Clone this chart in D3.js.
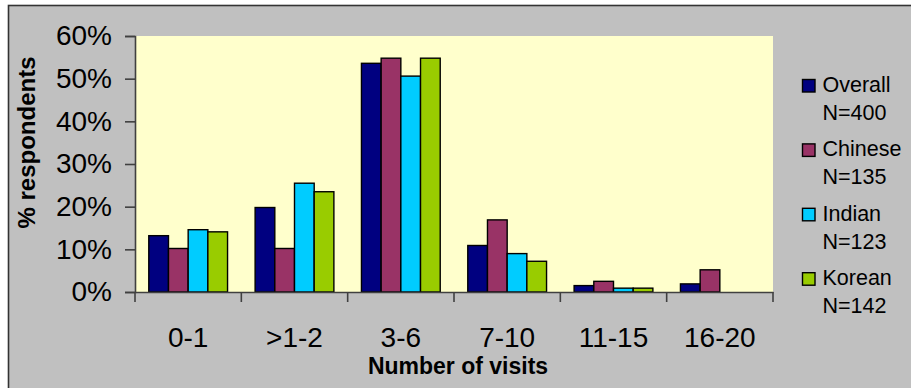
<!DOCTYPE html>
<html>
<head>
<meta charset="utf-8">
<script src="https://cdn.jsdelivr.net/npm/d3@7"></script>
<style>
  html, body { margin: 0; padding: 0; background: #ffffff; }
  svg { display: block; font-family: "Liberation Sans", Arial, sans-serif; }
</style>
</head>
<body>
<svg id="chart" width="911" height="388"></svg>
<script>
// Visit-frequency categories and the share of respondents in each group
const categories = ["0-1", ">1-2", "3-6", "7-10", "11-15", "16-20"];
const seriesNames = ["Overall", "Chinese", "Indian", "Korean"];
const seriesSizes = ["N=400", "N=135", "N=123", "N=142"];
const overall = [0.132, 0.198, 0.536, 0.109, 0.015, 0.019];
const chinese = [0.102, 0.102, 0.548, 0.169, 0.025, 0.052];
const indian  = [0.146, 0.255, 0.506, 0.090, 0.009, 0];
const korean  = [0.141, 0.235, 0.548, 0.072, 0.009, 0];
const yTicks = [0, 0.1, 0.2, 0.3, 0.4, 0.5, 0.6];
const colors = ["#000080", "#993366", "#00ccff", "#99cc00"];

const seriesValues = [overall, chinese, indian, korean];
const rows = categories.map((c, i) => ({
  cat: c,
  vals: seriesNames.map((s, k) => ({ key: s, value: seriesValues[k][i], k }))
}));

const svg = d3.select("#chart");

// Outer chart frame (grey panel with dark border)
svg.append("rect")
  .attr("x", 8.5).attr("y", 5.5)
  .attr("width", 1000).attr("height", 500)
  .attr("fill", "#c0c0c0")
  .attr("stroke", "#333333").attr("stroke-width", 1.6);

const plot = { left: 135, right: 773, top: 36, bottom: 292 };

// Plot area background
svg.append("rect")
  .attr("x", plot.left).attr("y", plot.top)
  .attr("width", plot.right - plot.left).attr("height", plot.bottom - plot.top)
  .attr("fill", "#ffffcc");

const x0 = d3.scaleBand().domain(categories).range([plot.left, plot.right]).padding(0);
const x1 = d3.scaleBand().domain(seriesNames).range([0, x0.bandwidth()])
  .paddingInner(0).paddingOuter(0.7);
const y = d3.scaleLinear().domain([0, 0.6]).range([plot.bottom, plot.top]);

// Bars
const groups = svg.append("g").selectAll("g").data(rows).join("g")
  .attr("transform", d => `translate(${x0(d.cat)},0)`);
groups.selectAll("rect").data(d => d.vals.filter(v => v.value > 0)).join("rect")
  .attr("x", v => x1(v.key))
  .attr("y", v => y(v.value))
  .attr("width", x1.bandwidth())
  .attr("height", v => y(0) - y(v.value))
  .attr("fill", v => colors[v.k])
  .attr("stroke", "#000").attr("stroke-width", 1.4);

// Y axis
const yAxis = svg.append("g")
  .attr("transform", `translate(${plot.left},0)`)
  .call(d3.axisLeft(y).tickValues(yTicks).tickSize(10).tickPadding(13)
    .tickFormat(d => Math.round(d * 100) + "%"));
yAxis.selectAll("text").attr("font-size", 28).attr("fill", "#000")
  .attr("font-family", "Liberation Sans, Arial, sans-serif");

// X axis: ticks at the category boundaries, labels centered in each band
const xAxis = svg.append("g")
  .attr("transform", `translate(0,${plot.bottom})`)
  .call(d3.axisBottom(x0).tickSize(0).tickPadding(0).tickFormat(""));
xAxis.selectAll(".tick").remove();
const boundaries = categories.map(c => x0(c)).concat([plot.right]);
xAxis.selectAll("line.bound").data(boundaries).join("line")
  .attr("class", "bound")
  .attr("x1", d => d).attr("x2", d => d)
  .attr("y1", 0).attr("y2", 10);
xAxis.selectAll("text.lab").data(categories).join("text")
  .attr("class", "lab")
  .attr("x", d => x0(d) + x0.bandwidth() / 2)
  .attr("y", 54.5)
  .attr("text-anchor", "middle")
  .attr("font-size", 28).attr("fill", "#000")
  .text(d => d);

[yAxis, xAxis].forEach(a => {
  a.selectAll("path.domain").attr("stroke", "#404040").attr("stroke-width", 1.6);
  a.selectAll("line").attr("stroke", "#404040").attr("stroke-width", 1.6);
});

// Axis titles
svg.append("text")
  .attr("x", (plot.left + plot.right) / 2 + 4).attr("y", 374)
  .attr("text-anchor", "middle")
  .attr("font-size", 23).attr("font-weight", "bold")
  .text("Number of visits");

svg.append("text")
  .attr("transform", "translate(35,142.5) rotate(-90)")
  .attr("text-anchor", "middle")
  .attr("font-size", 24).attr("font-weight", "bold")
  .text("% respondents");

// Legend
const legend = svg.append("g").selectAll("g").data(seriesNames).join("g")
  .attr("transform", (d, i) => `translate(0,${92 + i * 64.4})`);
legend.append("rect")
  .attr("x", 802.5).attr("y", -12.5)
  .attr("width", 12.5).attr("height", 12.5)
  .attr("fill", (d, i) => colors[i])
  .attr("stroke", "#000").attr("stroke-width", 1.4);
legend.append("text")
  .attr("x", 822.5).attr("y", 0)
  .attr("font-size", 21.5)
  .text(d => d);
legend.append("text")
  .attr("x", 822.5).attr("y", 28)
  .attr("font-size", 21.5)
  .text((d, i) => seriesSizes[i]);
</script>
</body>
</html>
